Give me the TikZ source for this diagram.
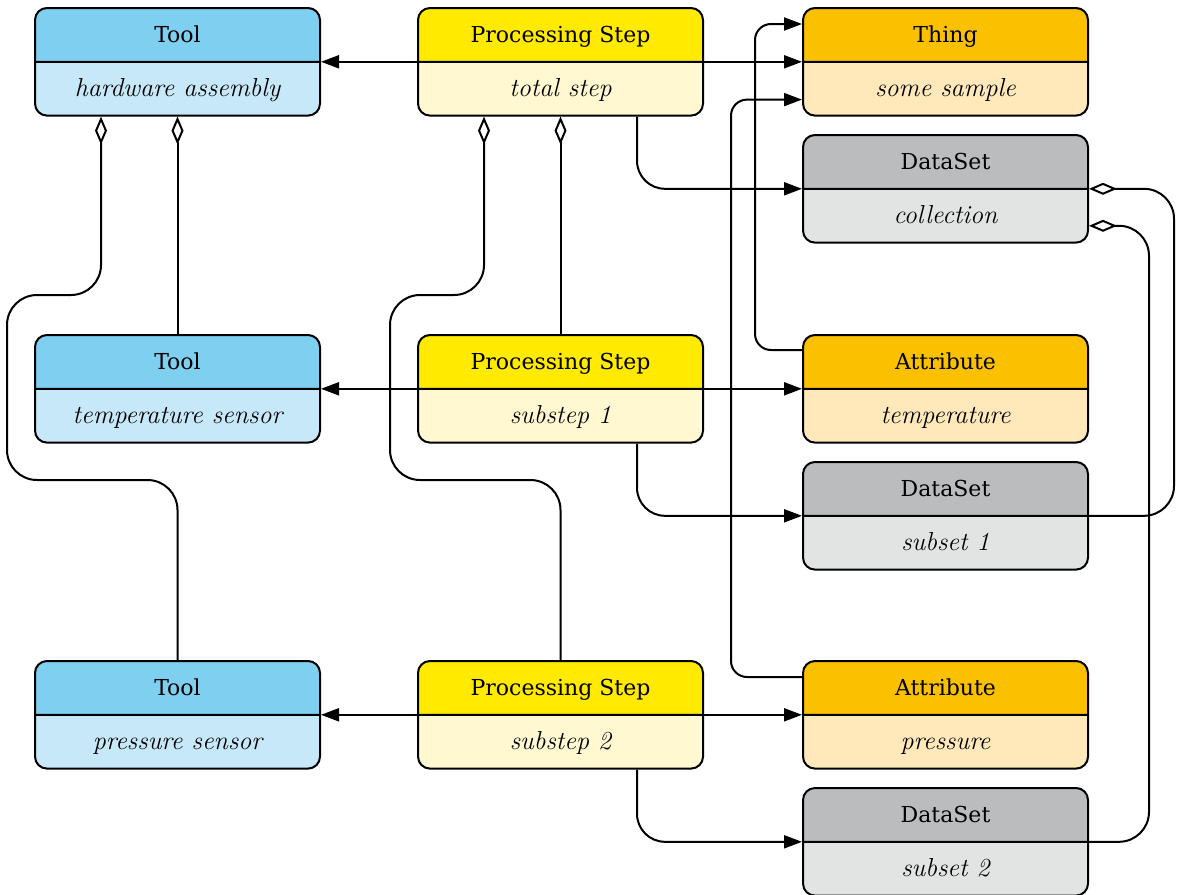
\documentclass[tikz,border=0pt]{standalone}
\usepackage{fontspec}
\usetikzlibrary{shapes.multipart,arrows.meta}

\newfontfamily\titlefont{DejaVu Serif}
\newcommand\subpart[1]{{\rmfamily\itshape\fontsize{13}{15}\selectfont #1}\rule[-5.5pt]{0pt}{18.5pt}}

\definecolor{toolTop}{RGB}{127,208,240}
\definecolor{toolBot}{RGB}{199,232,248}
\definecolor{stepTop}{RGB}{255,234,0}
\definecolor{stepBot}{RGB}{255,248,208}
\definecolor{attrTop}{RGB}{251,193,0}
\definecolor{attrBot}{RGB}{255,233,186}
\definecolor{dataTop}{RGB}{187,188,190}
\definecolor{dataBot}{RGB}{226,228,227}

\begin{document}
\begin{tikzpicture}[
    x=0.5pt, y=-0.5pt,
    line width=1pt,
    box/.style={rectangle split, rectangle split parts=2, draw, rounded corners=6pt,
      minimum width=142.5pt, inner ysep=3.7pt, text height=13pt, text depth=5.5pt,
      anchor=north west, font=\titlefont\fontsize{11}{13}\selectfont},
    toolbox/.style={box, rectangle split part fill={toolTop,toolBot}},
    stepbox/.style={box, rectangle split part fill={stepTop,stepBot}},
    attrbox/.style={box, rectangle split part fill={attrTop,attrBot}},
    databox/.style={box, rectangle split part fill={dataTop,dataBot}},
    link/.style={-{Triangle[length=9pt,width=6.5pt]}, rounded corners=14pt},
    agg/.style={{Diamond[open,length=14pt,width=6pt]}-, rounded corners=15pt},
]
  \useasboundingbox (0,0) rectangle (1181,894);

  % tools
  \node[toolbox] (tool1) at (34,7)   {Tool \nodepart{two} \subpart{hardware assembly}};
  \node[toolbox] (tool2) at (34,334) {Tool \nodepart{two} \subpart{temperature sensor}};
  \node[toolbox] (tool3) at (34,660) {Tool \nodepart{two} \subpart{pressure sensor}};

  % processing steps
  \node[stepbox] (step1) at (417,7)   {Processing Step \nodepart{two} \subpart{total step}};
  \node[stepbox] (step2) at (417,334) {Processing Step \nodepart{two} \subpart{substep 1}};
  \node[stepbox] (step3) at (417,660) {Processing Step \nodepart{two} \subpart{substep 2}};

  % thing, attributes, data sets
  \node[attrbox] (thing) at (802,7)   {Thing \nodepart{two} \subpart{some sample}};
  \node[databox] (data1) at (802,134) {DataSet \nodepart{two} \subpart{collection}};
  \node[attrbox] (attr1) at (802,334) {Attribute \nodepart{two} \subpart{temperature}};
  \node[databox] (data2) at (802,461) {DataSet \nodepart{two} \subpart{subset 1}};
  \node[attrbox] (attr2) at (802,660) {Attribute \nodepart{two} \subpart{pressure}};
  \node[databox] (data3) at (802,787) {DataSet \nodepart{two} \subpart{subset 2}};

  % step -> tool, step -> attribute
  \draw[link] (step1.text split west) -- (tool1.text split east);
  \draw[link] (step1.text split east) -- (thing.text split west);
  \draw[link] (step2.text split west) -- (tool2.text split east);
  \draw[link] (step2.text split east) -- (attr1.text split west);
  \draw[link] (step3.text split west) -- (tool3.text split east);
  \draw[link] (step3.text split east) -- (attr2.text split west);

  % aggregation of tools and steps
  \draw[agg] ([xshift=33.5pt]tool1.south west) |- (7,295) -- (7,480) -| (tool3.north);
  \draw[agg] (tool1.south) -- (tool2.north);
  \draw[agg] ([xshift=33.5pt]step1.south west) |- (390,295) -- (390,480) -| (step3.north);
  \draw[agg] (step1.south) -- (step2.north);

  % step -> data set
  \draw[link] ([xshift=110pt]step1.south west) |- (data1.text split west);
  \draw[link] ([xshift=110pt]step2.south west) |- (data2.text split west);
  \draw[link] ([xshift=110pt]step3.south west) |- (data3.text split west);

  % attribute -> thing
  \draw[link, rounded corners=8pt] ([yshift=-8pt]attr1.north west) -- ++(-47,0)
    |- ([yshift=-8.5pt]thing.north west);
  \draw[link, rounded corners=8pt] ([yshift=-8.5pt]attr2.north west) -- ++(-71,0)
    |- ([yshift=8.5pt]thing.south west);

  % data set aggregation
  \draw[agg] (data1.text split east) -- ++(85,0) |- (data2.text split east);
  \draw[agg] ([yshift=-18.5pt]data1.text split east) -- ++(60,0) |- (data3.text split east);

\end{tikzpicture}
\end{document}
